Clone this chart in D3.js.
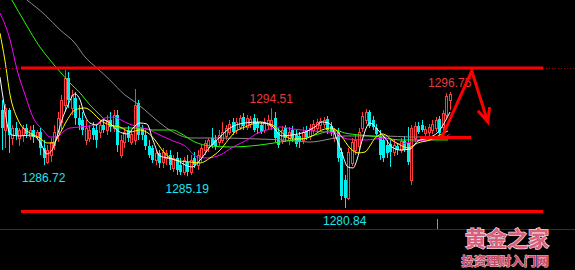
<!DOCTYPE html>
<html>
<head>
<meta charset="utf-8">
<script src="https://cdn.jsdelivr.net/npm/d3@7"></script>
<style>
body { margin: 0; background: #000; }
svg { display: block; }
.price-label { font-family: 'Liberation Sans', Arial, sans-serif; font-size: 12px; }
.mark { font-family: 'Noto Sans CJK SC', sans-serif; font-weight: bold; paint-order: stroke; }
</style>
</head>
<body>
<div id="chart"></div>
<script>
var WIDTH = 575
var HEIGHT = 270

// open, high, low, close
var candles = [
    [1294.28, 1295.66, 1288.80, 1291.81], [1291.54, 1295.11, 1289.07, 1294.56], [1294.28, 1294.56, 1288.39, 1290.85],
    [1290.44, 1292.23, 1289.48, 1291.81], [1291.81, 1292.64, 1290.17, 1290.85], [1290.44, 1291.81, 1289.35, 1291.54],
    [1290.85, 1292.23, 1289.89, 1291.81], [1291.81, 1292.36, 1290.44, 1290.99], [1290.72, 1292.09, 1290.17, 1291.54],
    [1291.54, 1292.23, 1289.76, 1290.58], [1290.72, 1291.54, 1290.17, 1291.27], [1291.27, 1291.81, 1288.11, 1289.07],
    [1289.07, 1290.17, 1286.72, 1287.70], [1287.15, 1289.48, 1286.88, 1288.80], [1288.11, 1290.44, 1287.15, 1289.89],
    [1289.48, 1292.23, 1288.80, 1291.27], [1290.85, 1294.01, 1289.89, 1293.19], [1292.64, 1296.34, 1291.54, 1295.66],
    [1294.97, 1299.77, 1294.01, 1298.67], [1298.67, 1299.50, 1294.56, 1295.66], [1294.56, 1297.03, 1293.60, 1296.34],
    [1295.93, 1296.75, 1292.23, 1293.19], [1293.19, 1294.97, 1291.54, 1292.23], [1292.91, 1294.01, 1290.85, 1291.54],
    [1290.17, 1292.91, 1289.48, 1291.81], [1290.44, 1292.23, 1289.89, 1291.54], [1291.81, 1292.64, 1290.17, 1290.85],
    [1291.54, 1292.23, 1289.07, 1290.17], [1291.27, 1292.64, 1290.44, 1292.23], [1292.23, 1293.19, 1291.13, 1291.54],
    [1291.54, 1293.60, 1290.85, 1292.91], [1292.91, 1294.01, 1291.27, 1291.95], [1291.81, 1294.28, 1291.27, 1293.60],
    [1293.60, 1294.28, 1288.52, 1289.48], [1288.11, 1290.85, 1287.70, 1290.17], [1289.89, 1291.81, 1289.07, 1291.27],
    [1291.54, 1292.09, 1289.89, 1290.44], [1289.89, 1291.54, 1289.48, 1290.99], [1290.17, 1297.16, 1289.48, 1294.97],
    [1295.24, 1295.66, 1290.17, 1290.85], [1291.81, 1292.23, 1290.17, 1290.85], [1290.85, 1291.54, 1288.80, 1289.35],
    [1289.35, 1290.17, 1287.70, 1288.11], [1289.07, 1289.48, 1287.01, 1287.43], [1287.43, 1288.80, 1286.74, 1288.39],
    [1288.39, 1288.80, 1286.33, 1287.01], [1287.15, 1289.07, 1286.33, 1288.52], [1287.70, 1288.80, 1286.74, 1288.39],
    [1288.11, 1288.80, 1286.05, 1286.74], [1286.33, 1288.11, 1285.78, 1287.70], [1287.70, 1288.52, 1285.37, 1286.05],
    [1286.74, 1287.70, 1285.37, 1285.78], [1285.78, 1287.84, 1285.37, 1287.43], [1287.15, 1288.11, 1285.19, 1285.78],
    [1285.78, 1288.11, 1285.37, 1287.43], [1287.70, 1288.52, 1286.33, 1286.74], [1286.74, 1288.80, 1286.05, 1288.11],
    [1287.84, 1289.48, 1287.15, 1289.07], [1288.80, 1290.17, 1288.11, 1289.76], [1289.21, 1290.44, 1288.52, 1290.17],
    [1290.44, 1291.81, 1289.07, 1289.48], [1290.17, 1290.85, 1288.80, 1289.35], [1289.89, 1291.54, 1289.35, 1290.85],
    [1290.17, 1292.64, 1289.76, 1291.27], [1290.72, 1292.23, 1290.17, 1291.81], [1291.27, 1292.91, 1290.85, 1292.36],
    [1292.64, 1293.19, 1290.85, 1291.27], [1291.54, 1293.19, 1290.99, 1292.64], [1291.95, 1293.60, 1291.54, 1293.19],
    [1293.32, 1293.87, 1291.54, 1292.09], [1291.95, 1293.60, 1291.54, 1293.19], [1292.36, 1293.46, 1291.81, 1293.05],
    [1293.19, 1293.73, 1291.27, 1291.54], [1292.64, 1293.19, 1290.99, 1291.81], [1292.23, 1292.64, 1290.99, 1291.27],
    [1291.54, 1293.19, 1291.13, 1292.64], [1292.23, 1293.60, 1291.54, 1292.91], [1292.09, 1294.51, 1291.54, 1292.91],
    [1293.19, 1294.01, 1289.89, 1290.44], [1291.27, 1291.81, 1289.07, 1289.48], [1290.17, 1292.09, 1289.62, 1291.54],
    [1291.81, 1292.23, 1289.89, 1290.44], [1290.17, 1291.95, 1289.48, 1291.27], [1291.54, 1292.09, 1289.89, 1290.44],
    [1290.85, 1291.54, 1289.21, 1289.62], [1290.72, 1291.27, 1289.07, 1289.89], [1290.17, 1291.95, 1289.62, 1291.27],
    [1291.54, 1292.09, 1290.17, 1290.58], [1290.72, 1292.36, 1290.17, 1291.81], [1291.54, 1292.91, 1290.99, 1292.36],
    [1291.81, 1293.05, 1291.27, 1292.64], [1292.23, 1293.19, 1291.54, 1292.77], [1292.36, 1293.32, 1291.81, 1292.91],
    [1293.05, 1293.46, 1290.99, 1291.54], [1292.09, 1292.64, 1290.72, 1291.27], [1290.44, 1291.81, 1289.89, 1291.40],
    [1291.27, 1291.81, 1287.15, 1287.70], [1288.52, 1289.07, 1281.93, 1282.49], [1284.68, 1285.37, 1280.84, 1282.22],
    [1282.22, 1289.07, 1281.93, 1288.52], [1287.01, 1290.44, 1286.60, 1289.89], [1288.80, 1290.85, 1288.11, 1290.17],
    [1289.35, 1291.81, 1288.80, 1291.27], [1291.81, 1294.01, 1291.27, 1293.46], [1292.91, 1294.42, 1292.36, 1294.01],
    [1294.01, 1294.28, 1291.81, 1292.09], [1292.91, 1293.46, 1291.54, 1291.95], [1291.81, 1292.36, 1290.72, 1290.99],
    [1290.72, 1291.54, 1287.43, 1288.11], [1290.17, 1290.72, 1287.15, 1287.70], [1289.48, 1290.17, 1287.70, 1288.39],
    [1289.62, 1290.17, 1286.47, 1288.52], [1288.52, 1290.17, 1287.97, 1289.48], [1289.35, 1289.76, 1288.11, 1288.80],
    [1288.80, 1290.44, 1288.39, 1290.03], [1290.03, 1290.72, 1288.52, 1288.80], [1289.76, 1291.95, 1286.74, 1287.15],
    [1284.68, 1292.23, 1284.00, 1291.81], [1290.44, 1292.64, 1289.89, 1292.09], [1292.09, 1292.64, 1290.99, 1291.27],
    [1292.23, 1292.91, 1291.27, 1291.54], [1291.13, 1292.09, 1290.72, 1291.68], [1291.27, 1292.36, 1290.72, 1291.95],
    [1291.54, 1292.91, 1290.99, 1292.36], [1291.81, 1293.32, 1291.27, 1292.91], [1293.05, 1293.46, 1290.85, 1291.13],
    [1291.95, 1294.28, 1291.40, 1293.87], [1293.60, 1296.62, 1293.19, 1296.20], [1295.66, 1296.75, 1294.28, 1296.48]
]

// moving averages: [candle index, price]
var maWhite = [
    [-0.5, 1298.81], [0.7, 1294.97], [1.8, 1291.81], [2.9, 1290.85], [5.2, 1290.72], [8.1, 1290.85], [10.1, 1290.44],
    [11.5, 1289.35], [12.9, 1288.25], [14.4, 1288.80], [15.5, 1290.17], [17.2, 1292.91], [18.7, 1294.70], [20.9, 1296.48],
    [22.4, 1295.66], [23.5, 1293.87], [25.2, 1292.50], [27.2, 1292.23], [28.9, 1292.91], [30.9, 1292.50], [33.2, 1291.40],
    [36.1, 1290.99], [37.5, 1291.81], [39.5, 1292.50], [41.5, 1292.36], [43.2, 1290.17], [45.2, 1287.97], [47.5, 1287.70],
    [50.4, 1287.29], [52.4, 1286.74], [54.4, 1286.47], [56.7, 1287.43], [59.5, 1289.21], [62.4, 1290.58], [65.2, 1291.81],
    [69.5, 1292.50], [73.8, 1292.64], [77.2, 1292.09], [80.1, 1290.72], [82.9, 1290.85], [86.7, 1291.27], [89.5, 1291.95],
    [91.5, 1292.64], [93.8, 1292.36], [95.5, 1290.58], [97.2, 1288.39], [98.9, 1286.47], [100.4, 1286.33], [101.5, 1287.43],
    [103.0, 1290.17], [105.2, 1292.50], [107.5, 1291.54], [109.5, 1290.44], [111.5, 1289.21], [113.8, 1288.80],
    [116.7, 1288.93], [118.9, 1290.03], [121.8, 1290.44], [125.2, 1291.54], [126.6, 1292.64], [128.1, 1294.01]
]
var maYellow = [
    [-0.5, 1304.85], [0.9, 1301.14], [2.4, 1296.34], [4.4, 1293.19], [6.1, 1291.81], [8.1, 1291.13], [10.9, 1290.44],
    [12.9, 1289.76], [14.7, 1289.76], [16.7, 1291.13], [18.7, 1292.91], [20.9, 1294.28], [23.8, 1294.56], [26.1, 1293.87],
    [28.1, 1292.91], [30.9, 1292.23], [33.8, 1291.95], [36.7, 1291.27], [39.5, 1291.54], [41.8, 1291.13], [43.8, 1290.17],
    [45.8, 1288.80], [48.1, 1287.70], [50.9, 1287.29], [53.8, 1287.15], [56.7, 1287.01], [59.5, 1287.70], [62.4, 1288.80],
    [64.7, 1290.17], [66.7, 1291.27], [69.5, 1291.95], [73.2, 1292.50], [76.7, 1292.36], [79.5, 1291.40], [82.9, 1290.31],
    [85.8, 1290.31], [88.7, 1290.72], [91.5, 1291.54], [94.4, 1291.81], [97.2, 1290.58], [99.5, 1289.07], [101.8, 1288.39],
    [103.8, 1288.52], [105.2, 1289.35], [106.7, 1290.44], [109.0, 1290.99], [111.5, 1290.17], [113.8, 1289.48],
    [116.1, 1289.07], [118.9, 1289.76], [122.4, 1290.17], [125.2, 1290.85], [127.5, 1291.40]
]
var maMagenta = [
    [-0.5, 1307.59], [2.4, 1303.89], [4.4, 1299.77], [6.7, 1296.34], [8.9, 1293.32], [11.8, 1291.54], [13.8, 1290.58],
    [15.8, 1290.58], [17.5, 1291.27], [19.5, 1291.81], [22.4, 1291.95], [26.7, 1292.23], [29.5, 1293.19], [31.8, 1293.32],
    [35.2, 1292.64], [38.7, 1291.95], [41.5, 1291.68], [45.2, 1290.85], [49.0, 1290.03], [52.4, 1289.35], [55.8, 1287.84],
    [58.7, 1287.70], [62.4, 1288.11], [66.1, 1289.21], [70.1, 1290.17], [73.2, 1291.13], [75.8, 1291.54], [79.5, 1291.95],
    [83.2, 1291.68], [88.9, 1291.40], [95.2, 1291.13], [98.7, 1290.31], [103.8, 1290.17], [109.5, 1290.44],
    [113.8, 1289.62], [118.1, 1290.03], [122.4, 1290.17], [126.1, 1290.44], [128.1, 1290.99]
]
var maGreen = [
    [2.9, 1309.37], [6.7, 1306.22], [10.9, 1302.93], [13.8, 1301.14], [16.7, 1299.50], [19.5, 1297.99], [22.4, 1296.62],
    [25.2, 1294.97], [28.1, 1293.60], [30.9, 1292.36], [33.8, 1291.81], [39.5, 1291.81], [43.2, 1291.54], [48.9, 1291.54],
    [50.9, 1291.13], [55.2, 1289.89], [59.5, 1289.35], [65.2, 1289.21], [73.8, 1289.48], [79.5, 1289.89], [86.7, 1290.44],
    [92.4, 1291.27], [95.2, 1291.54], [98.0, 1291.13], [102.4, 1290.85], [108.1, 1290.58], [113.8, 1290.17], [127.5, 1290.17]
]
var maGray = [
    [7.2, 1309.37], [12.4, 1307.31], [16.7, 1305.26], [20.9, 1303.47], [23.8, 1301.55], [27.2, 1300.04], [30.9, 1298.40],
    [35.2, 1296.34], [38.1, 1295.38], [40.9, 1294.28], [43.2, 1293.32], [46.7, 1291.95], [49.5, 1291.13], [53.8, 1290.44],
    [62.4, 1290.44], [72.9, 1290.31], [80.4, 1290.17], [88.1, 1289.89], [93.8, 1290.31], [98.1, 1290.72], [109.5, 1290.72],
    [116.7, 1290.58], [125.2, 1290.58]
]

var resistance = 1300.05
var support = 1280.36
var breakout = 1290.5
var markedLows = [12, 53, 98]
var markedHighs = [77, 128]
var arrowPath = [[125.8, 1290.58], [134.3, 1299.63], [138.9, 1292.64]]
var watermark = ['黄金之家', '投资理财入门网']

var svg = d3.select('#chart')
    .append('svg')
    .attr('width', WIDTH)
    .attr('height', HEIGHT)
    .style('background', '#000')

var x = d3.scaleLinear()
    .domain([0, candles.length - 1])
    .range([1.7, 449.7])

var y = d3.scaleLinear()
    .domain([1280.84, 1296.75])
    .range([208, 92])

var px = function (i) { return Math.round(x(i)) }

// bottom frame of the price pane
svg.append('line')
    .attr('x1', 0).attr('x2', WIDTH)
    .attr('y1', 229.5).attr('y2', 229.5)
    .attr('stroke', '#a00000')

svg.append('line')
    .attr('x1', 437.5).attr('x2', 437.5)
    .attr('y1', 219).attr('y2', 229)
    .attr('stroke', '#909090')

// candles
var candle = svg.append('g').selectAll('g')
    .data(candles)
    .enter().append('g')

candle.append('line')
    .attr('x1', function (d, i) { return px(i) + 0.5 })
    .attr('x2', function (d, i) { return px(i) + 0.5 })
    .attr('y1', function (d) { return y(d[1]) })
    .attr('y2', function (d) { return y(d[2]) })
    .attr('stroke', function (d) { return d[3] >= d[0] ? '#ff3c3c' : '#00f0f0' })

candle.append('rect')
    .attr('x', function (d, i) { return d[3] >= d[0] ? px(i) - 0.5 : px(i) - 1 })
    .attr('width', function (d) { return d[3] >= d[0] ? 2 : 3 })
    .attr('y', function (d) { return Math.round(y(Math.max(d[0], d[3]))) + (d[3] >= d[0] ? 0.5 : 0) })
    .attr('height', function (d) { return Math.max(1, Math.round(Math.abs(y(d[0]) - y(d[3])))) })
    .attr('fill', function (d) { return d[3] >= d[0] ? '#000' : '#00f0f0' })
    .attr('stroke', function (d) { return d[3] >= d[0] ? '#ff3c3c' : 'none' })

// moving averages
var maLine = d3.line()
    .x(function (d) { return x(d[0]) })
    .y(function (d) { return y(d[1]) })
    .curve(d3.curveMonotoneX)

var maSeries = [
    { data: maGray, color: '#8c8c8c' },
    { data: maGreen, color: '#22ff00' },
    { data: maMagenta, color: '#ff00ff' },
    { data: maYellow, color: '#ffff00' },
    { data: maWhite, color: '#ffffff' }
]

svg.append('g').selectAll('path')
    .data(maSeries)
    .enter().append('path')
    .attr('d', function (d) { return maLine(d.data) })
    .attr('fill', 'none')
    .attr('stroke', function (d) { return d.color })
    .attr('stroke-width', 1)

// support / resistance
svg.append('line')
    .attr('x1', x(-0.5)).attr('x2', x(5.5))
    .attr('y1', Math.round(y(resistance)) + 0.5).attr('y2', Math.round(y(resistance)) + 0.5)
    .attr('stroke', '#b00000')
    .attr('stroke-dasharray', '1,2')

svg.append('line')
    .attr('x1', x(154.7)).attr('x2', WIDTH)
    .attr('y1', Math.round(y(resistance)) + 0.5).attr('y2', Math.round(y(resistance)) + 0.5)
    .attr('stroke', '#b00000')
    .attr('stroke-dasharray', '1,2')

var levels = [
    { v: resistance, from: 5.5, to: 154.7 },
    { v: support, from: 5.5, to: 154.7 },
    { v: breakout, from: 119.5, to: 134.1 }
]

svg.append('g').selectAll('line')
    .data(levels)
    .enter().append('line')
    .attr('x1', function (d) { return x(d.from) })
    .attr('x2', function (d) { return x(d.to) })
    .attr('y1', function (d) { return y(d.v) })
    .attr('y2', function (d) { return y(d.v) })
    .attr('stroke', '#ff0000')
    .attr('stroke-width', 3)

// price labels
var fmt = d3.format('.2f')

svg.append('g').selectAll('text')
    .data(markedLows)
    .enter().append('text')
    .attr('class', 'price-label')
    .attr('x', function (i) { return x(i) })
    .attr('y', function (i) { return y(candles[i][2]) + 17 })
    .attr('text-anchor', 'middle')
    .attr('fill', '#1ee4f2')
    .text(function (i) { return fmt(candles[i][2]) })

svg.append('g').selectAll('text')
    .data(markedHighs)
    .enter().append('text')
    .attr('class', 'price-label')
    .attr('x', function (i) { return x(i) })
    .attr('y', function (i) { return y(candles[i][1]) - 5 })
    .attr('text-anchor', 'middle')
    .attr('fill', '#e83a3a')
    .text(function (i) { return fmt(candles[i][1]) })

// hand drawn arrow
var arrowPts = arrowPath.map(function (d) { return [x(d[0]), y(d[1])] })

svg.append('path')
    .attr('d', d3.line()(arrowPts))
    .attr('fill', 'none')
    .attr('stroke', '#ff0000')
    .attr('stroke-width', 3)
    .attr('stroke-linejoin', 'miter')

var tip = arrowPts[2]
var prev = arrowPts[1]
var ang = Math.atan2(tip[1] - prev[1], tip[0] - prev[0])
var head = [-0.42, 0.42].map(function (a) {
    return [tip[0] - 15 * Math.cos(ang + a), tip[1] - 15 * Math.sin(ang + a)]
})

svg.append('path')
    .attr('d', d3.line()([head[0], tip, head[1]]))
    .attr('fill', 'none')
    .attr('stroke', '#ff0000')
    .attr('stroke-width', 3)

// watermark
svg.append('text')
    .attr('class', 'mark')
    .attr('x', 507)
    .attr('y', 246)
    .attr('text-anchor', 'middle')
    .attr('font-size', 21)
    .attr('fill', '#d8607c')
    .attr('stroke', '#f6d6dc')
    .attr('stroke-width', 1.5)
    .text(watermark[0])

svg.append('text')
    .attr('class', 'mark')
    .attr('x', 505)
    .attr('y', 266)
    .attr('text-anchor', 'middle')
    .attr('font-size', 12.5)
    .attr('fill', '#c8486a')
    .attr('stroke', '#f0c8d0')
    .attr('stroke-width', 1)
    .text(watermark[1])
</script>
</body>
</html>
